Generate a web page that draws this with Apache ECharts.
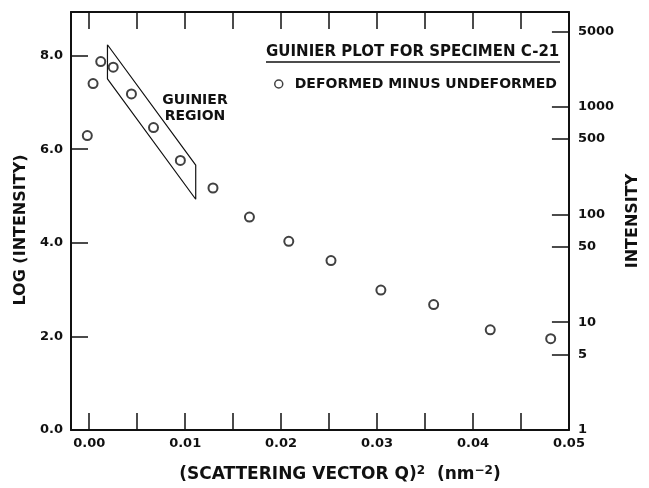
<!DOCTYPE html>
<html>
<head>
<meta charset="utf-8">
<script src="https://cdn.jsdelivr.net/npm/echarts@6/dist/echarts.min.js"></script>
<style>
  html, body { margin: 0; padding: 0; background: #fff; }
  #chart { width: 649px; height: 488px; }
</style>
</head>
<body>
<div id="chart"></div>
<script>
// data
const qSquared = [-0.0002, 0.0004, 0.0012, 0.0025, 0.0044, 0.0067, 0.0095, 0.0129, 0.0167, 0.0208, 0.0252, 0.0304, 0.0359, 0.0418, 0.0481]
const logIntensity = [6.29, 7.40, 7.87, 7.75, 7.18, 6.46, 5.76, 5.17, 4.55, 4.03, 3.62, 2.99, 2.68, 2.14, 1.95]

// guinier region box (corners, closed)
const boxQ = [0.0019, 0.0019, 0.0111, 0.0111, 0.0019]
const boxLog = [8.23, 7.50, 4.93, 5.66, 8.23]

// ticks
const xLabelTicks = [0, 0.01, 0.02, 0.03, 0.04, 0.05]
const xTicks = [0, 0.005, 0.01, 0.015, 0.02, 0.025, 0.03, 0.035, 0.04, 0.045, 0.05]
const logTicks = [0, 2, 4, 6, 8]
const intensityTicks = [1, 5, 10, 50, 100, 500, 1000, 5000]

const font = 'DejaVu Sans'
const ink = '#111'

const myChart = echarts.init(document.getElementById('chart'))

const axisLine = { show: true, onZero: false, lineStyle: { color: ink, width: 2 } }
const tick = (vals) => ({ show: true, inside: true, length: 17, customValues: vals, lineStyle: { color: ink, width: 1.5 } })
const labelStyle = { color: ink, fontFamily: font, fontWeight: 'bold', fontSize: 13 }

const option = {
  animation: false,
  backgroundColor: '#fff',
  grid: { left: 71, right: 69, top: 12, bottom: 56 },
  title: {
    text: 'GUINIER PLOT FOR SPECIMEN C-21',
    left: 266,
    top: 45,
    padding: 0,
    textStyle: { color: ink, fontFamily: font, fontWeight: 'bold', fontSize: 15 }
  },
  legend: {
    data: ['DEFORMED MINUS UNDEFORMED'],
    left: 274,
    top: 77,
    padding: 0,
    icon: 'circle',
    itemWidth: 8,
    itemHeight: 8,
    itemStyle: { color: '#fff', borderColor: ink, borderWidth: 1.5 },
    textStyle: { color: ink, fontFamily: font, fontWeight: 'bold', fontSize: 14, padding: [0, 0, 0, 7] }
  },
  graphic: [
    {
      type: 'line',
      shape: { x1: 266, y1: 62, x2: 560, y2: 62 },
      style: { stroke: ink, lineWidth: 1.5 }
    },
    {
      type: 'text',
      x: 195,
      y: 108,
      style: {
        text: 'GUINIER\nREGION',
        align: 'center',
        verticalAlign: 'middle',
        lineHeight: 16,
        fill: ink,
        font: 'bold 14px "DejaVu Sans"'
      }
    }
  ],
  xAxis: [
    {
      type: 'value',
      min: -0.0019,
      max: 0.05,
      name: '(SCATTERING VECTOR Q){sup|2}  (nm{sup|−2})',
      nameLocation: 'middle',
      nameGap: 35,
      nameTextStyle: {
        color: ink,
        fontFamily: font,
        fontWeight: 'bold',
        fontSize: 17,
        padding: [0, 0, 0, 40],
        rich: {
          sup: { color: ink, fontFamily: font, fontWeight: 'bold', fontSize: 12, verticalAlign: 'top', padding: [0, 0, 7, 0] }
        }
      },
      axisLine: axisLine,
      axisTick: tick(xTicks),
      axisLabel: { ...labelStyle, margin: 7, customValues: xLabelTicks, formatter: v => v.toFixed(2) },
      splitLine: { show: false }
    },
    {
      type: 'value',
      position: 'top',
      min: -0.0019,
      max: 0.05,
      axisLine: axisLine,
      axisTick: tick(xTicks),
      axisLabel: { show: false },
      splitLine: { show: false }
    }
  ],
  yAxis: [
    {
      type: 'value',
      position: 'left',
      min: 0,
      max: 8.93,
      name: 'LOG (INTENSITY)',
      nameLocation: 'middle',
      nameGap: 41,
      nameRotate: 90,
      nameTextStyle: { color: ink, fontFamily: font, fontWeight: 'bold', fontSize: 16, padding: [0, 18, 0, 0] },
      axisLine: axisLine,
      axisTick: tick(logTicks),
      axisLabel: { ...labelStyle, margin: 8, customValues: logTicks, formatter: v => v.toFixed(1) },
      splitLine: { show: false }
    },
    {
      type: 'value',
      position: 'right',
      min: 0,
      max: 8.93,
      name: 'INTENSITY',
      nameLocation: 'middle',
      nameGap: 55,
      nameRotate: 90,
      nameTextStyle: { color: ink, fontFamily: font, fontWeight: 'bold', fontSize: 16 },
      axisLine: axisLine,
      axisTick: tick(intensityTicks.map(v => Math.log(v))),
      axisLabel: {
        ...labelStyle,
        margin: 9,
        customValues: intensityTicks.map(v => Math.log(v)),
        formatter: v => String(Math.round(Math.exp(v)))
      },
      splitLine: { show: false }
    }
  ],
  series: [
    {
      name: 'GUINIER REGION',
      type: 'line',
      data: boxQ.map((q, i) => [q, boxLog[i]]),
      symbol: 'none',
      lineStyle: { color: ink, width: 1.2 },
      silent: true,
      z: 2
    },
    {
      name: 'DEFORMED MINUS UNDEFORMED',
      type: 'scatter',
      data: qSquared.map((q, i) => [q, logIntensity[i]]),
      symbol: 'emptyCircle',
      symbolSize: 9,
      itemStyle: { color: ink, borderColor: ink, borderWidth: 1.5 },
      z: 3
    }
  ]
}

myChart.setOption(option)
window.addEventListener('resize', () => {
  myChart.resize()
})
</script>
</body>
</html>
